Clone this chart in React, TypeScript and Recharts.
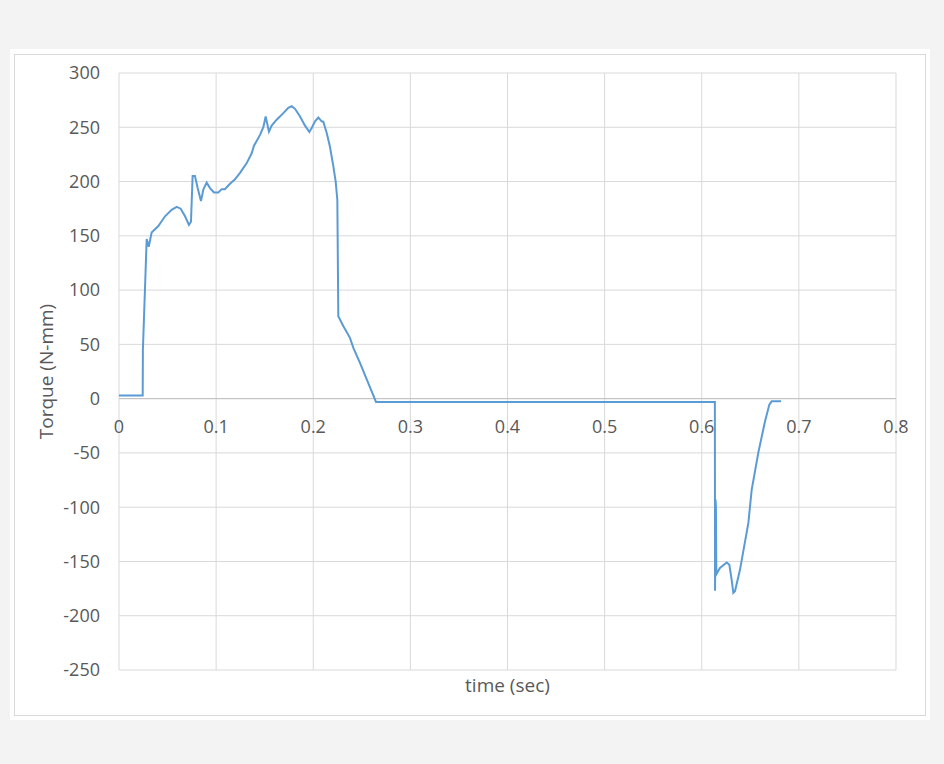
import React from 'react';
import { LineChart, Line, XAxis, YAxis, CartesianGrid, ReferenceLine } from 'recharts';

const times = [
  0, 0.0244, 0.0246, 0.0285, 0.0306, 0.0336, 0.0405, 0.0474, 0.0542, 0.0594, 0.0635, 0.068, 0.072, 0.0741,
  0.0758, 0.0782, 0.081, 0.0844, 0.0868, 0.0903, 0.0937, 0.0978, 0.1023, 0.1057, 0.109, 0.1143, 0.1194,
  0.1246, 0.1315, 0.1366, 0.139, 0.1452, 0.1486, 0.151, 0.1544, 0.1572, 0.1623, 0.1692, 0.1743, 0.1778,
  0.1812, 0.1864, 0.1915, 0.196, 0.1984, 0.2018, 0.2052, 0.2087, 0.2104, 0.2138, 0.2172, 0.2207, 0.2231,
  0.2248, 0.2258, 0.2309, 0.2378, 0.2412, 0.2481, 0.2646, 0.6135, 0.6137, 0.6142, 0.6146, 0.615, 0.6187,
  0.6257, 0.6284, 0.6308, 0.6325, 0.6342, 0.6394, 0.648, 0.6514, 0.6582, 0.6651, 0.6696, 0.672, 0.6816,
];
const torques = [
  3, 3, 45, 147, 140, 153, 159, 168, 174, 176.6, 175, 168, 160, 163,
  205, 205, 194, 182, 192.5, 199, 194, 190, 190, 193, 193, 198, 202,
  208, 217, 226, 233, 243, 250, 260, 246, 251.5, 257, 263, 268, 269.5,
  267, 260, 251.5, 245.7, 249.4, 255.5, 259, 255.5, 255, 245, 232, 214, 200,
  183, 76, 67, 56, 47, 33, -3, -3, -177, -93, -100, -162, -156,
  -151, -153, -167, -179, -177.5, -157.5, -114.5, -84, -50, -21, -5.5, -2.5, -2.5,
];
const xTicks = [0, 0.1, 0.2, 0.3, 0.4, 0.5, 0.6, 0.7, 0.8];
const yTicks = [-250, -200, -150, -100, -50, 0, 50, 100, 150, 200, 250, 300];

const data = times.map((t, i) => ({ t, v: torques[i] }));

const CHART_W = 920;
const CHART_H = 671;
const M_TOP = 24;
const M_RIGHT = 34;
const X_AXIS_H = 50;
const Y_MIN = -250;
const Y_MAX = 300;
const PLOT_H = CHART_H - M_TOP - X_AXIS_H;
const ZERO_Y = M_TOP + (PLOT_H * Y_MAX) / (Y_MAX - Y_MIN);

const FONT = "'Open Sans', 'Noto Sans', sans-serif";
const TEXT = '#595959';
const TICK_FS = 18;
const TITLE_FS = 19;

const XTick = (props: any) => {
  const { x, payload } = props;
  return (
    <text x={x} y={ZERO_Y + 34} textAnchor="middle" fill={TEXT} fontSize={TICK_FS} fontFamily={FONT}>
      {payload.value}
    </text>
  );
};

export default function App() {
  return (
    <div style={{ position: 'absolute', left: 0, top: 0, width: 944, height: 764, background: '#f3f3f3' }}>
      <div style={{ position: 'absolute', left: 10, top: 49, width: 920, height: 671, background: '#ffffff' }}>
        <div
          style={{
            position: 'absolute',
            left: 4,
            top: 5,
            width: 912,
            height: 662,
            border: '1px solid #d9d9d9',
            boxSizing: 'border-box',
          }}
        />
        <div style={{ position: 'absolute', left: 0, top: 0 }}>
          <LineChart width={CHART_W} height={CHART_H} data={data} margin={{ top: M_TOP, right: M_RIGHT, left: 0, bottom: 0 }}>
            <CartesianGrid stroke="#d9d9d9" strokeWidth={1} />
            <XAxis
              dataKey="t"
              type="number"
              domain={[0, 0.8]}
              ticks={xTicks}
              height={X_AXIS_H}
              axisLine={false}
              tickLine={false}
              tick={<XTick />}
              interval={0}
              label={{ value: 'time (sec)', position: 'insideBottom', offset: 28, fill: TEXT, fontSize: TITLE_FS, fontFamily: FONT }}
            />
            <YAxis
              type="number"
              domain={[Y_MIN, Y_MAX]}
              ticks={yTicks}
              width={109}
              axisLine={false}
              tickLine={false}
              tickSize={17}
              tickMargin={2}
              interval={0}
              tick={{ fill: TEXT, fontSize: TICK_FS, fontFamily: FONT }}
              label={{ value: 'Torque (N-mm)', angle: -90, position: 'insideLeft', offset: 36, fill: TEXT, fontSize: TITLE_FS, fontFamily: FONT, style: { textAnchor: 'middle' } }}
            />
            <ReferenceLine y={0} stroke="#bfbfbf" strokeWidth={1} />
            <Line
              dataKey="v"
              type="linear"
              stroke="#5b9bd5"
              strokeWidth={2}
              dot={false}
              isAnimationActive={false}
            />
          </LineChart>
        </div>
      </div>
    </div>
  );
}
